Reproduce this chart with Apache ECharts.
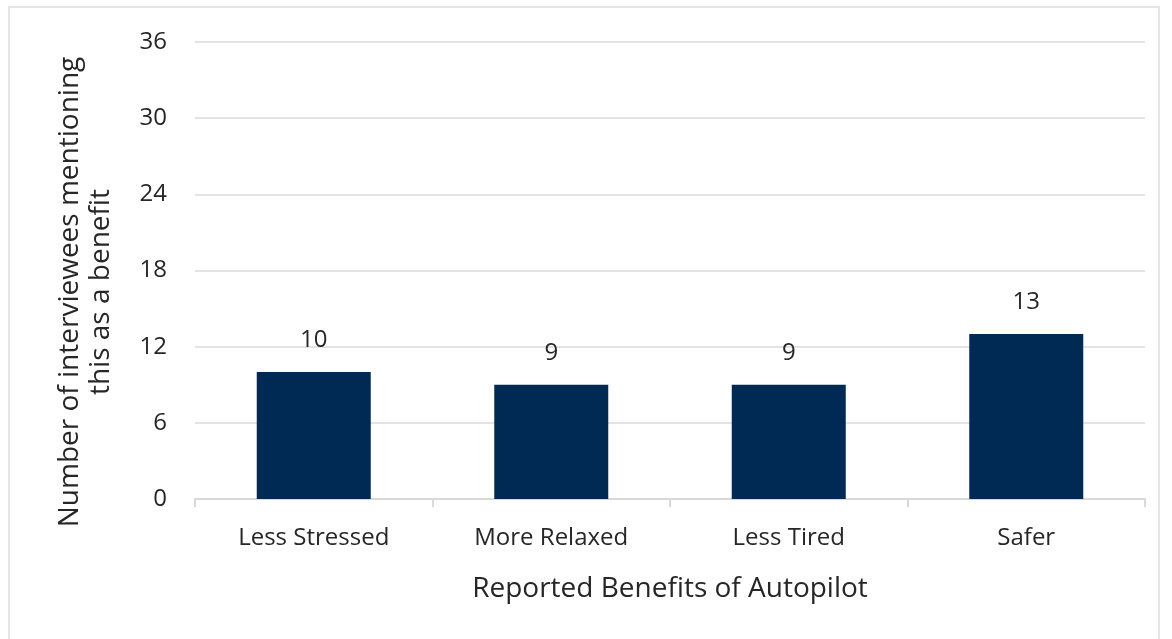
<!DOCTYPE html>
<html><head><meta charset="utf-8">
<script src="https://cdn.jsdelivr.net/npm/echarts@6/dist/echarts.min.js"></script>
<style>html,body{margin:0;padding:0;background:#fff}#frame{position:absolute;left:8px;top:6px;width:1152px;height:640px;border:2px solid #e6e6e6;box-sizing:border-box}#c{width:1172px;height:639px}</style>
</head><body><div id="frame"></div><div id="c"></div>
<script>
const categories = ['Less Stressed', 'More Relaxed', 'Less Tired', 'Safer'];
const values = [10, 9, 9, 13];
const yTicks = { min: 0, max: 36, interval: 6 };
const xTitle = 'Reported Benefits of Autopilot';
const yTitle = 'Number of interviewees mentioning\nthis as a benefit';

const chart = echarts.init(document.getElementById('c'), null, { renderer: 'canvas' });
const font = 'Open Sans';
const txt = '#262626';
chart.setOption({
  backgroundColor: 'transparent',
  animation: false,
  grid: { left: 195, right: 27, top: 42, bottom: 140, containLabel: false },
  graphic: [{
    type: 'text', x: 86, y: 292, rotation: Math.PI / 2,
    style: { text: yTitle, fontFamily: font, fontSize: 28, fill: txt, lineHeight: 31, align: 'center', verticalAlign: 'middle' }
  }],
  xAxis: {
    type: 'category', data: categories,
    name: xTitle, nameLocation: 'middle', nameGap: 76,
    nameTextStyle: { fontFamily: font, fontSize: 28, color: txt },
    axisLine: { lineStyle: { color: '#d9d9d9', width: 2 } },
    axisTick: { show: true, alignWithLabel: false, length: 8, lineStyle: { color: '#d9d9d9', width: 2 } },
    axisLabel: { fontFamily: font, fontSize: 24, color: txt, margin: 27 }
  },
  yAxis: {
    type: 'value', min: yTicks.min, max: yTicks.max, interval: yTicks.interval,
    axisLine: { show: false }, axisTick: { show: false },
    axisLabel: { fontFamily: font, fontSize: 24, color: txt, margin: 28 },
    splitLine: { lineStyle: { color: '#e3e3e3', width: 2 } }
  },
  series: [{
    type: 'bar', data: values, barWidth: '48%',
    itemStyle: { color: '#002A54' },
    label: { show: true, position: 'top', distance: 20, fontFamily: font, fontSize: 24, color: txt }
  }]
});
</script></body></html>
